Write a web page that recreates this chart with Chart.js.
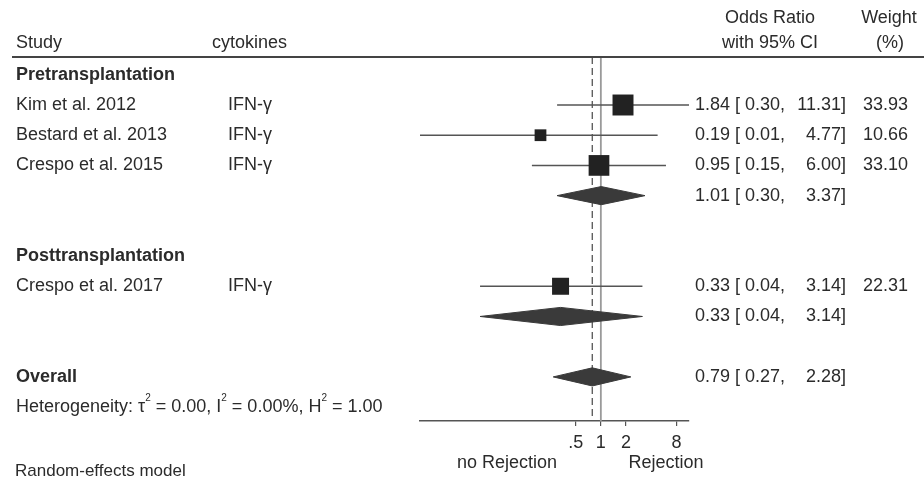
<!DOCTYPE html>
<html><head><meta charset="utf-8">
<script src="https://cdn.jsdelivr.net/npm/chart.js@4.4.1/dist/chart.umd.min.js"></script>
<style>html,body{margin:0;padding:0;background:#fff}#wrap{width:924px;height:480px;position:relative}</style>
</head><body><div id="wrap"><canvas id="c"></canvas></div>
<script>
// ---- data ----
const studyNames = ["Kim et al. 2012", "Bestard et al. 2013", "Crespo et al. 2015", "Crespo et al. 2017"];
const studyCytokines = ["IFN-γ", "IFN-γ", "IFN-γ", "IFN-γ"];
const studyRows = [1, 2, 3, 7];
const studyOR = [1.84, 0.19, 0.95, 0.33];
const studyLo = [0.30, 0.0069, 0.15, 0.036];
const studyHi = [11.31, 4.77, 6.00, 3.14];
const studyWeight = [33.93, 10.66, 33.10, 22.31];

const groupLabels = ["Pretransplantation", "Posttransplantation", "Overall"];
const groupRows = [0, 6, 10];

const summaryRows = [4, 8, 10];
const summaryOR = [1.01, 0.33, 0.79];
const summaryLo = [0.30, 0.036, 0.27];
const summaryHi = [3.37, 3.14, 2.28];

const tickValues = [0.5, 1, 2, 8];
const tickLabels = [".5", "1", "2", "8"];
const heterogeneityStats = [["τ", "0.00"], ["I", "0.00%"], ["H", "1.00"]];
const heterogeneityRow = 11;

const xMin = 0.0069, xMax = 11.31;
const rowMin = -0.589, rowMax = 11.46;

// ---- styling ----
const FONT = '"Liberation Sans", Arial, Helvetica, sans-serif';
const TXT = '#2b2b2b';
const FS = 18;
Chart.defaults.font.family = FONT;
Chart.defaults.color = TXT;

const datasets = [];
// squares
datasets.push({
  data: studyOR.map((v, i) => ({x: v, y: studyRows[i]})),
  pointStyle: 'rect',
  pointRadius: studyWeight.map(w => 3.6 * Math.sqrt(w) / Math.SQRT2),
  pointBackgroundColor: '#222', pointBorderColor: '#222', pointBorderWidth: 0,
  showLine: false, order: 0
});
// diamonds
summaryOR.forEach((v, i) => {
  const r = summaryRows[i];
  datasets.push({
    data: [{x: summaryLo[i], y: r}, {x: v, y: r - 0.3}, {x: summaryHi[i], y: r}, {x: v, y: r + 0.3}, {x: summaryLo[i], y: r}],
    showLine: true, fill: 'shape', backgroundColor: '#3a3a3a', borderColor: '#3a3a3a', borderWidth: 1,
    pointRadius: 0, tension: 0, order: 1
  });
});
// CI lines
studyOR.forEach((v, i) => {
  datasets.push({
    data: [{x: studyLo[i], y: studyRows[i]}, {x: studyHi[i], y: studyRows[i]}],
    showLine: true, borderColor: '#555', borderWidth: 1.5, pointRadius: 0, order: 2
  });
});
// reference lines
datasets.push({
  data: [{x: 1, y: rowMin}, {x: 1, y: rowMax}],
  showLine: true, borderColor: '#9a9a9a', borderWidth: 1.8, pointRadius: 0, order: 4
});
datasets.push({
  data: [{x: summaryOR[2], y: rowMin}, {x: summaryOR[2], y: rowMax}],
  showLine: true, borderColor: '#555', borderWidth: 1.3, borderDash: [7, 4], pointRadius: 0, order: 3
});

const textPlugin = {
  id: 'forestText',
  afterDraw(chart) {
    const ctx = chart.ctx, ys = chart.scales.y;
    const Y = r => ys.getPixelForValue(r);
    const f = (w, s) => `${w} ${s}px ${FONT}`;
    ctx.save();
    ctx.fillStyle = TXT;
    ctx.textBaseline = 'middle';
    ctx.font = f('normal', FS);
    ctx.textAlign = 'left';
    ctx.fillText("Study", 16, 43);
    ctx.fillText("cytokines", 212, 43);
    ctx.textAlign = 'center';
    ctx.fillText("Odds Ratio", 770, 18);
    ctx.fillText("with 95% CI", 770, 43);
    ctx.fillText("Weight", 889, 18);
    ctx.fillText("(%)", 890, 43);
    ctx.strokeStyle = '#444'; ctx.lineWidth = 2;
    ctx.beginPath(); ctx.moveTo(12, 57); ctx.lineTo(924, 57); ctx.stroke();

    ctx.textAlign = 'left';
    ctx.font = f('bold', FS);
    groupLabels.forEach((g, i) => ctx.fillText(g, 16, Y(groupRows[i])));

    ctx.font = f('normal', FS);
    const orText = (o, l, h, y) => {
      ctx.textAlign = 'left';
      ctx.fillText(`${o.toFixed(2)} [ ${l.toFixed(2)},`, 695, y);
      ctx.textAlign = 'right';
      ctx.fillText(`${h.toFixed(2)}]`, 846, y);
    };
    studyNames.forEach((n, i) => {
      const y = Y(studyRows[i]);
      ctx.textAlign = 'left';
      ctx.fillText(n, 16, y);
      ctx.fillText(studyCytokines[i], 228, y);
      orText(studyOR[i], studyLo[i], studyHi[i], y);
      ctx.textAlign = 'left';
      ctx.fillText(studyWeight[i].toFixed(2), 863, y);
    });
    summaryOR.forEach((o, i) => orText(o, summaryLo[i], summaryHi[i], Y(summaryRows[i])));

    // heterogeneity
    let x = 16; const hy = Y(heterogeneityRow);
    ctx.textAlign = 'left';
    const put = (t, size, dy) => { ctx.font = f('normal', size); ctx.fillText(t, x, hy + dy); x += ctx.measureText(t).width; };
    put("Heterogeneity: ", FS, 0);
    heterogeneityStats.forEach((s, i) => {
      put(s[0], FS, 0);
      put("2", 10, -9);
      put(" = " + s[1] + (i < heterogeneityStats.length - 1 ? ", " : ""), FS, 0);
    });

    ctx.font = f('normal', FS);
    ctx.textAlign = 'center';
    ctx.fillText("no Rejection", 507, 463);
    ctx.fillText("Rejection", 666, 463);
    ctx.textAlign = 'left';
    ctx.font = f('normal', 17);
    ctx.fillText("Random-effects model", 15, 471);
    ctx.restore();
  }
};

new Chart(document.getElementById('c'), {
  type: 'scatter',
  data: {datasets},
  options: {
    responsive: true, maintainAspectRatio: false, animation: false, events: [],
    layout: {padding: {left: 420, right: 235, top: 57, bottom: 0}},
    plugins: {legend: {display: false}, tooltip: {enabled: false}},
    scales: {
      x: {
        type: 'logarithmic', min: xMin, max: xMax, bounds: 'data',
        afterBuildTicks: s => { s.ticks = tickValues.map(v => ({value: v})); },
        afterFit: s => { s.height = 59; },
        ticks: {callback: (v) => tickLabels[tickValues.indexOf(v)] ?? '', font: {size: FS}, color: TXT, padding: 6, maxRotation: 0, autoSkip: false},
        grid: {drawOnChartArea: false, drawTicks: true, tickLength: 5, color: '#555', lineWidth: 1.2},
        border: {display: true, color: '#555', width: 1.5}
      },
      y: {type: 'linear', reverse: true, min: rowMin, max: rowMax, bounds: 'data', display: false}
    }
  },
  plugins: [textPlugin]
});
</script></body></html>
